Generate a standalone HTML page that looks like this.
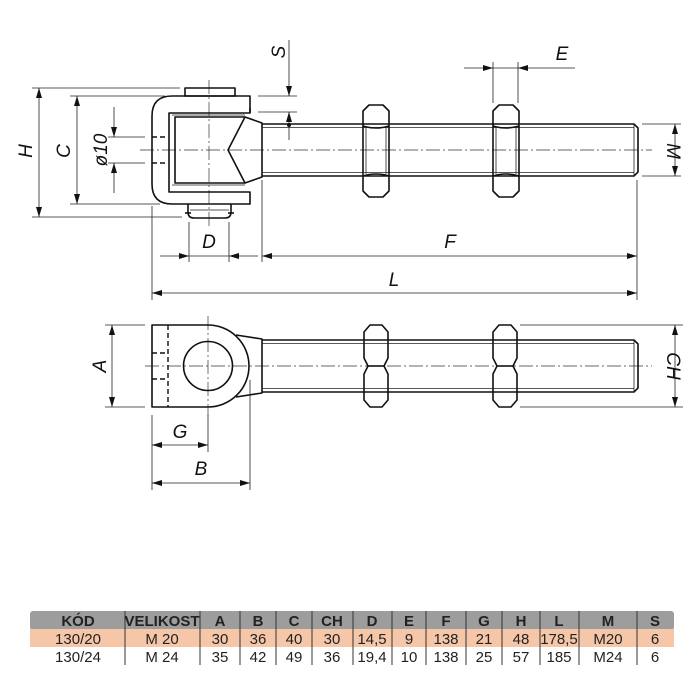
<!DOCTYPE html>
<html><head><meta charset="utf-8"><style>
html,body{margin:0;padding:0;background:#fff;}
svg{display:block}
.o{stroke:#111;stroke-width:1.6;fill:none;stroke-linejoin:round}
.t{stroke:#222;stroke-width:0.8;fill:none}
.c{stroke:#333;stroke-width:0.7;fill:none;stroke-dasharray:14 3 2 3}
.d{stroke:#111;stroke-width:1.4;fill:none;stroke-dasharray:5 3}
.lb{font-family:"Liberation Sans",sans-serif;font-style:italic;font-size:19px;fill:#111}
.tb{font-family:"Liberation Sans Narrow","Liberation Sans",sans-serif;font-size:15px;fill:#222}
.tbh{font-weight:bold}
</style></head><body>
<svg width="700" height="700" viewBox="0 0 700 700" xmlns="http://www.w3.org/2000/svg">
<defs>
<marker id="a" viewBox="0 0 10 6" refX="10" refY="3" markerWidth="10" markerHeight="6" markerUnits="userSpaceOnUse" orient="auto-start-reverse"><path d="M0,0 L10,3 L0,6z" fill="#111"/></marker>
</defs>

<!-- ===== TOP VIEW ===== -->
<line class="c" x1="140" y1="150" x2="652" y2="150"/>
<line class="c" x1="209" y1="80" x2="209" y2="226"/>
<rect class="o" x="185" y="88" width="50" height="8"/>
<path class="o" d="M188,204 V212 Q188,218 194,218 H225 Q231,218 231,212 V204"/>
<line class="t" x1="190" y1="210" x2="229" y2="210"/>
<line class="o" x1="185" y1="213" x2="191" y2="213"/>
<line class="o" x1="228" y1="213" x2="234" y2="213"/>
<path class="o" d="M250,96 H172 Q152,96 152,116 V184 Q152,204 172,204 H250 V192 H169 V113 H250 Z"/>
<line class="o" x1="250" y1="108" x2="250" y2="113"/>
<path class="o" d="M245,117 H175 V183 H245 L228,150 Z"/>
<line class="t" x1="172" y1="115" x2="245" y2="115"/>
<line class="t" x1="172" y1="185" x2="245" y2="185"/>
<path class="o" d="M245,117 L262,123 V177 L245,183"/>
<line class="d" x1="152" y1="137" x2="168" y2="137"/>
<line class="d" x1="152" y1="163" x2="168" y2="163"/>
<path class="o" d="M262,124 H634 L638,128 V172 L634,176 H262"/>
<line class="t" x1="262" y1="127.5" x2="634" y2="127.5"/>
<line class="t" x1="262" y1="172.5" x2="634" y2="172.5"/>
<line class="t" x1="634" y1="124" x2="634" y2="176"/>
<g id="nut">
<path class="o" d="M369,105 H383 L389,111 V191 L383,197 H369 L363,191 V111 Z" fill="#fff"/>
<path class="o" d="M363,126 Q376,130 389,126 M363,176 Q376,172 389,176"/>
<path class="t" d="M366,127 V174 M386,127 V174"/>
</g>
<use href="#nut" x="130"/>

<line class="t" x1="32" y1="88" x2="180" y2="88"/>
<line class="t" x1="32" y1="217" x2="182" y2="217"/>
<line class="t" x1="39" y1="88" x2="39" y2="217" marker-start="url(#a)" marker-end="url(#a)"/>
<text class="lb" transform="translate(32,151) rotate(-90)" text-anchor="middle">H</text>
<line class="t" x1="70" y1="96" x2="165" y2="96"/>
<line class="t" x1="70" y1="204" x2="160" y2="204"/>
<line class="t" x1="77" y1="96" x2="77" y2="204" marker-start="url(#a)" marker-end="url(#a)"/>
<text class="lb" transform="translate(70,151) rotate(-90)" text-anchor="middle">C</text>
<line class="t" x1="108" y1="137" x2="145" y2="137"/>
<line class="t" x1="108" y1="163" x2="145" y2="163"/>
<line class="t" x1="114" y1="107" x2="114" y2="137" marker-end="url(#a)"/>
<line class="t" x1="114" y1="193" x2="114" y2="163" marker-end="url(#a)"/>
<text class="lb" transform="translate(107,150) rotate(-90)" text-anchor="middle">ø10</text>
<line class="t" x1="258" y1="96" x2="297" y2="96"/>
<line class="t" x1="258" y1="112" x2="297" y2="112"/>
<line class="t" x1="289" y1="40" x2="289" y2="96" marker-end="url(#a)"/>
<line class="t" x1="289" y1="140" x2="289" y2="112" marker-end="url(#a)"/>
<circle cx="289" cy="125" r="2" fill="#111"/>
<text class="lb" transform="translate(285,52) rotate(-90)" text-anchor="middle">S</text>
<line class="t" x1="493" y1="62" x2="493" y2="103"/>
<line class="t" x1="518" y1="62" x2="518" y2="103"/>
<line class="t" x1="464" y1="68" x2="493" y2="68" marker-end="url(#a)"/>
<line class="t" x1="575" y1="68" x2="518" y2="68" marker-end="url(#a)"/>
<line class="t" x1="493" y1="68" x2="518" y2="68"/>
<text class="lb" x="562" y="60" text-anchor="middle">E</text>
<line class="t" x1="642" y1="124" x2="681" y2="124"/>
<line class="t" x1="642" y1="176" x2="681" y2="176"/>
<line class="t" x1="675" y1="124" x2="675" y2="176" marker-start="url(#a)" marker-end="url(#a)"/>
<text class="lb" transform="translate(667,151) rotate(90)" text-anchor="middle">M</text>
<line class="t" x1="189" y1="222" x2="189" y2="262"/>
<line class="t" x1="229" y1="222" x2="229" y2="262"/>
<line class="t" x1="262" y1="180" x2="262" y2="262"/>
<line class="t" x1="637" y1="180" x2="637" y2="300"/>
<line class="t" x1="152" y1="206" x2="152" y2="300"/>
<line class="t" x1="160" y1="256" x2="189" y2="256" marker-end="url(#a)"/>
<line class="t" x1="258" y1="256" x2="229" y2="256" marker-end="url(#a)"/>
<line class="t" x1="189" y1="256" x2="229" y2="256"/>
<text class="lb" x="209" y="248" text-anchor="middle">D</text>
<line class="t" x1="262" y1="256" x2="637" y2="256" marker-start="url(#a)" marker-end="url(#a)"/>
<text class="lb" x="450" y="248" text-anchor="middle">F</text>
<line class="t" x1="152" y1="293" x2="637" y2="293" marker-start="url(#a)" marker-end="url(#a)"/>
<text class="lb" x="394" y="286" text-anchor="middle">L</text>

<!-- ===== BOTTOM VIEW ===== -->
<line class="c" x1="145" y1="366" x2="652" y2="366"/>
<line class="c" x1="208" y1="316" x2="208" y2="416"/>
<path class="o" d="M208,325 H152 V407 H208 A41,41 0 0 0 208,325"/>
<circle class="o" cx="208" cy="366" r="24.5"/>
<line class="d" x1="168" y1="325" x2="168" y2="407"/>
<line class="d" x1="152" y1="353" x2="168" y2="353"/>
<line class="d" x1="152" y1="379" x2="168" y2="379"/>
<path class="o" d="M236,335 L262,339 V393 L236,397"/>
<path class="o" d="M262,340 H634 L638,344 V388 L634,392 H262"/>
<line class="t" x1="262" y1="343.5" x2="634" y2="343.5"/>
<line class="t" x1="262" y1="388.5" x2="634" y2="388.5"/>
<line class="t" x1="634" y1="340" x2="634" y2="392"/>
<g id="nut2">
<path class="o" d="M370,325 H382 L388,332 V358 L384,366 L388,374 V400 L382,407 H370 L364,400 V374 L368,366 L364,358 V332 Z" fill="#fff"/>
<line class="o" x1="368" y1="366" x2="384" y2="366"/>
</g>
<use href="#nut2" x="129"/>
<line class="t" x1="105" y1="325" x2="145" y2="325"/>
<line class="t" x1="105" y1="407" x2="145" y2="407"/>
<line class="t" x1="112" y1="325" x2="112" y2="407" marker-start="url(#a)" marker-end="url(#a)"/>
<text class="lb" transform="translate(106,366) rotate(-90)" text-anchor="middle">A</text>
<line class="t" x1="520" y1="325" x2="683" y2="325"/>
<line class="t" x1="520" y1="407" x2="683" y2="407"/>
<line class="t" x1="675" y1="325" x2="675" y2="407" marker-start="url(#a)" marker-end="url(#a)"/>
<text class="lb" transform="translate(667,366) rotate(90)" text-anchor="middle">CH</text>
<line class="t" x1="152" y1="415" x2="152" y2="490"/>
<line class="t" x1="208" y1="415" x2="208" y2="452"/>
<line class="t" x1="250" y1="380" x2="250" y2="490"/>
<line class="t" x1="152" y1="445" x2="208" y2="445" marker-start="url(#a)" marker-end="url(#a)"/>
<text class="lb" x="180" y="438" text-anchor="middle">G</text>
<line class="t" x1="152" y1="483" x2="250" y2="483" marker-start="url(#a)" marker-end="url(#a)"/>
<text class="lb" x="201" y="475" text-anchor="middle">B</text>

<!-- ===== TABLE ===== -->
<rect x="30" y="611" width="644" height="19" rx="3" fill="#9d9d9d"/>
<rect x="30" y="629" width="644" height="18" fill="#f6c6a8"/>
<g stroke="#333" stroke-width="1">
<line x1="125" y1="611" x2="125" y2="665"/><line x1="200" y1="611" x2="200" y2="665"/>
<line x1="240" y1="611" x2="240" y2="665"/><line x1="276" y1="611" x2="276" y2="665"/>
<line x1="312" y1="611" x2="312" y2="665"/><line x1="353" y1="611" x2="353" y2="665"/>
<line x1="392" y1="611" x2="392" y2="665"/><line x1="426" y1="611" x2="426" y2="665"/>
<line x1="466" y1="611" x2="466" y2="665"/><line x1="502" y1="611" x2="502" y2="665"/>
<line x1="540" y1="611" x2="540" y2="665"/><line x1="579" y1="611" x2="579" y2="665"/>
<line x1="637" y1="611" x2="637" y2="665"/>
</g>
<g class="tb" text-anchor="middle">
<g class="tbh"><text x="78" y="626">KÓD</text><text x="162" y="626">VELIKOST</text><text x="220" y="626">A</text><text x="258" y="626">B</text><text x="294" y="626">C</text><text x="332" y="626">CH</text><text x="372" y="626">D</text><text x="409" y="626">E</text><text x="446" y="626">F</text><text x="484" y="626">G</text><text x="521" y="626">H</text><text x="559" y="626">L</text><text x="608" y="626">M</text><text x="655" y="626">S</text></g>
<text x="78" y="644">130/20</text><text x="162" y="644">M 20</text><text x="220" y="644">30</text><text x="258" y="644">36</text><text x="294" y="644">40</text><text x="332" y="644">30</text><text x="372" y="644">14,5</text><text x="409" y="644">9</text><text x="446" y="644">138</text><text x="484" y="644">21</text><text x="521" y="644">48</text><text x="559" y="644">178,5</text><text x="608" y="644">M20</text><text x="655" y="644">6</text>
<text x="78" y="662">130/24</text><text x="162" y="662">M 24</text><text x="220" y="662">35</text><text x="258" y="662">42</text><text x="294" y="662">49</text><text x="332" y="662">36</text><text x="372" y="662">19,4</text><text x="409" y="662">10</text><text x="446" y="662">138</text><text x="484" y="662">25</text><text x="521" y="662">57</text><text x="559" y="662">185</text><text x="608" y="662">M24</text><text x="655" y="662">6</text>
</g>
</svg>
</body></html>
